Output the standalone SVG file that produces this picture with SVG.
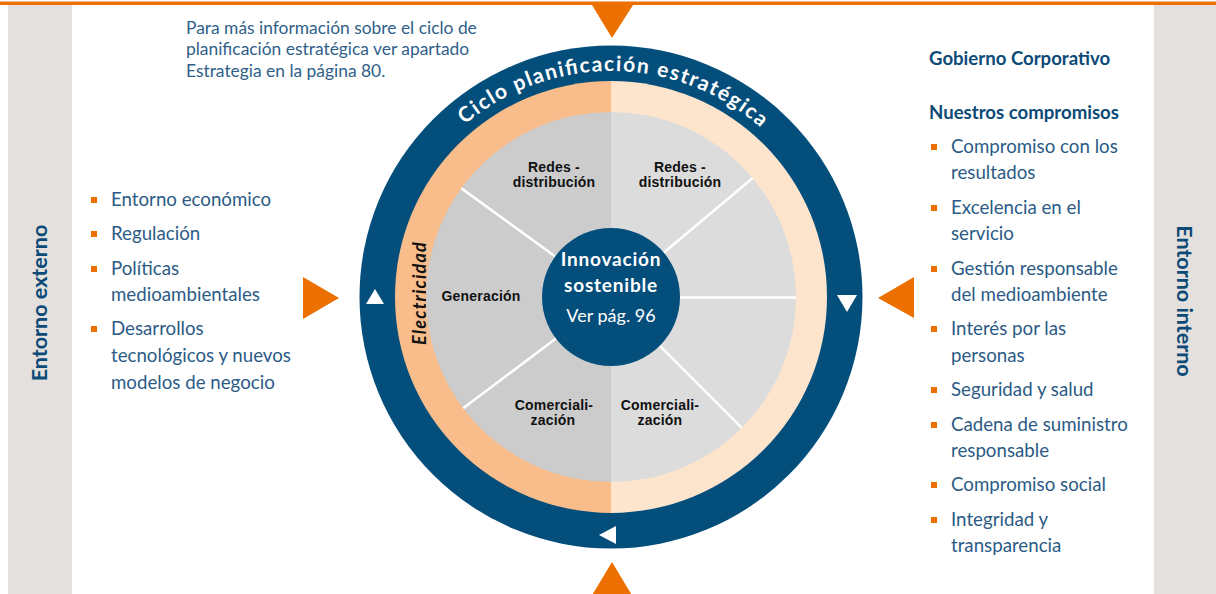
<svg xmlns="http://www.w3.org/2000/svg" width="1216" height="594" viewBox="0 0 1216 594">
  <style>
    .body { font-family: Lato, "Open Sans", sans-serif; font-size: 18.7px; fill: #2b5b86; }
    .note { font-family: Lato, "Open Sans", sans-serif; font-size: 17.4px; fill: #2f5f8a; }
    .head { font-family: Lato, "Open Sans", sans-serif; font-size: 18.6px; font-weight: 700; fill: #0c4a77; }
    .side { font-family: Lato, "Open Sans", sans-serif; font-size: 21.5px; font-weight: 700; fill: #0c4a77; }
    .seg  { font-family: "Liberation Sans", Arial, sans-serif; font-size: 14px; font-weight: 700; fill: #111; text-anchor: middle; letter-spacing: 0.2px; }
    .core { font-family: Lato, "Open Sans", sans-serif; fill: #fff; text-anchor: middle; }
    .bullet { fill: #ec7000; }
    .arrow { fill: #ec7000; }
    .tick { fill: #fff; }
    .divider { stroke: #fff; stroke-width: 2.5; fill: none; }
  </style>
  <defs>
    <path id="arcTop" d="M 415.3 184 A 226 226 0 0 1 806.7 184"/>
  </defs>

  <rect width="1216" height="594" fill="#fff"/>

  <!-- side bands -->
  <g id="band-left">
    <rect x="8" y="5" width="64" height="589" fill="#e4e0dd"/>
    <text class="side" transform="translate(47 303) rotate(-90)" text-anchor="middle">Entorno externo</text>
  </g>
  <g id="band-right">
    <rect x="1154" y="5" width="62" height="589" fill="#e4e0dd"/>
    <text class="side" transform="translate(1177 301) rotate(90)" text-anchor="middle">Entorno interno</text>
  </g>

  <!-- top rule -->
  <rect x="0" y="1.5" width="1216" height="3.5" fill="#ec7000"/>

  <!-- reference note -->
  <g id="note">
    <text class="note" x="186" y="34">Para más información sobre el ciclo de</text>
    <text class="note" x="186" y="55">planificación estratégica ver apartado</text>
    <text class="note" x="186" y="77">Estrategia en la página 80.</text>
  </g>

  <!-- external factors -->
  <g id="external-list">
    <rect class="bullet" x="91" y="197" width="6" height="6"/>
    <text class="body" x="111" y="206">Entorno económico</text>
    <rect class="bullet" x="91" y="231" width="6" height="6"/>
    <text class="body" x="111" y="240">Regulación</text>
    <rect class="bullet" x="91" y="266" width="6" height="6"/>
    <text class="body" x="111" y="275">Políticas</text>
    <text class="body" x="111" y="301">medioambientales</text>
    <rect class="bullet" x="91" y="326" width="6" height="6"/>
    <text class="body" x="111" y="335">Desarrollos</text>
    <text class="body" x="111" y="362">tecnológicos y nuevos</text>
    <text class="body" x="111" y="389">modelos de negocio</text>
  </g>

  <!-- internal commitments -->
  <g id="internal-list">
    <text class="head" x="929" y="65">Gobierno Corporativo</text>
    <text class="head" x="929" y="119">Nuestros compromisos</text>
    <rect class="bullet" x="931" y="144" width="6" height="6"/>
    <text class="body" x="951" y="153">Compromiso con los</text>
    <text class="body" x="951" y="179">resultados</text>
    <rect class="bullet" x="931" y="205" width="6" height="6"/>
    <text class="body" x="951" y="214">Excelencia en el</text>
    <text class="body" x="951" y="240">servicio</text>
    <rect class="bullet" x="931" y="266" width="6" height="6"/>
    <text class="body" x="951" y="275">Gestión responsable</text>
    <text class="body" x="951" y="301">del medioambiente</text>
    <rect class="bullet" x="931" y="326" width="6" height="6"/>
    <text class="body" x="951" y="335">Interés por las</text>
    <text class="body" x="951" y="362">personas</text>
    <rect class="bullet" x="931" y="387" width="6" height="6"/>
    <text class="body" x="951" y="396">Seguridad y salud</text>
    <rect class="bullet" x="931" y="422" width="6" height="6"/>
    <text class="body" x="951" y="431">Cadena de suministro</text>
    <text class="body" x="951" y="457">responsable</text>
    <rect class="bullet" x="931" y="482" width="6" height="6"/>
    <text class="body" x="951" y="491">Compromiso social</text>
    <rect class="bullet" x="931" y="517" width="6" height="6"/>
    <text class="body" x="951" y="526">Integridad y</text>
    <text class="body" x="951" y="552">transparencia</text>
  </g>

  <!-- planning cycle wheel -->
  <g id="cycle">
    <circle cx="611" cy="297" r="251.5" fill="#044e7c"/>
    <text font-family="Lato, 'Open Sans', sans-serif" font-size="21" font-weight="700" fill="#fff">
      <textPath href="#arcTop" startOffset="50.5%" text-anchor="middle" textLength="322" lengthAdjust="spacing">Ciclo planificación estratégica</textPath>
    </text>
    <polygon class="tick" points="375,289 366,304 384,304"/>
    <polygon class="tick" points="837,295 857,295 847,312"/>
    <polygon class="tick" points="599,535 616,526 616,544"/>
  </g>

  <g id="electricity-ring">
    <path d="M611 81 A216 216 0 0 0 611 513 Z" fill="#f8bd8b"/>
    <path d="M611 81 A216 216 0 0 1 611 513 Z" fill="#fde4cc"/>
    <text transform="translate(426 293) rotate(-90)" text-anchor="middle" font-family="Lato, 'Open Sans', sans-serif" font-size="18" font-weight="700" font-style="italic" letter-spacing="1.2" fill="#111">Electricidad</text>
  </g>

  <g id="segments">
    <path d="M611 112 A185 185 0 0 0 611 482 Z" fill="#cccccc"/>
    <path d="M611 112 A185 185 0 0 1 611 482 Z" fill="#dcdcdc"/>
    <line class="divider" x1="611" y1="297" x2="461.3" y2="188.2"/>
    <line class="divider" x1="611" y1="297" x2="463.2" y2="408.3"/>
    <line class="divider" x1="611" y1="297" x2="752.7" y2="178"/>
    <line class="divider" x1="611" y1="297.5" x2="796" y2="297.5"/>
    <line class="divider" x1="611" y1="297" x2="741.8" y2="427.8"/>
  </g>

  <g id="seg-redes-left">
    <text class="seg" x="554" y="172">Redes -</text>
    <text class="seg" x="554" y="187">distribución</text>
  </g>
  <g id="seg-redes-right">
    <text class="seg" x="680" y="172">Redes -</text>
    <text class="seg" x="680" y="187">distribución</text>
  </g>
  <g id="seg-generacion">
    <text class="seg" x="481" y="301">Generación</text>
  </g>
  <g id="seg-comercial-left">
    <text class="seg" x="554" y="410">Comerciali-</text>
    <text class="seg" x="553" y="425">zación</text>
  </g>
  <g id="seg-comercial-right">
    <text class="seg" x="660" y="410">Comerciali-</text>
    <text class="seg" x="660" y="425">zación</text>
  </g>

  <g id="core">
    <circle cx="611" cy="297" r="69" fill="#044e7c"/>
    <text class="core" x="611" y="266" font-size="19" font-weight="700" letter-spacing="0.8">Innovación</text>
    <text class="core" x="611" y="292" font-size="19" font-weight="700" letter-spacing="0.8">sostenible</text>
    <text class="core" x="611" y="322" font-size="18">Ver pág. 96</text>
  </g>

  <!-- flow arrows into the cycle -->
  <g id="connectors">
    <polygon class="arrow" points="592,5 633,5 612,38"/>
    <polygon class="arrow" points="612,562 591,597 633,597"/>
    <polygon class="arrow" points="303,277 303,319 339,298"/>
    <polygon class="arrow" points="914,277 914,318 878,298"/>
  </g>
</svg>
